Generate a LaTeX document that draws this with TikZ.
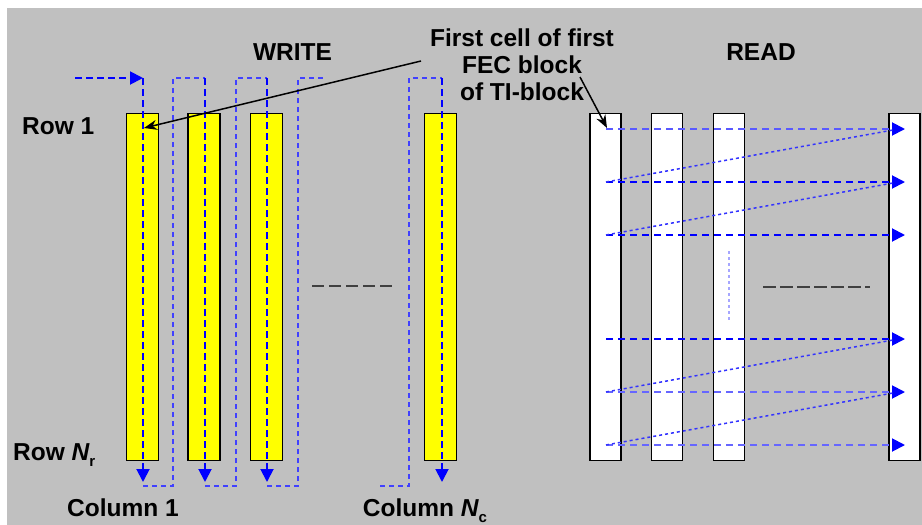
\documentclass[tikz,border=0pt]{standalone}
\usepackage{fontspec}
\setmainfont{Liberation Sans}
\usetikzlibrary{arrows.meta}
\definecolor{bg}{HTML}{C0C0C0}
\definecolor{ylw}{HTML}{FFFF00}
\definecolor{dgray}{HTML}{404040}
\definecolor{bl}{HTML}{0000FF}
\begin{document}
\begin{tikzpicture}[x=1pt,y=-1pt,
  wcol/.style={draw=black,line width=1.3pt,fill=ylw,minimum width=32pt,minimum height=347pt,inner sep=0pt},
  rcol/.style={draw=black,line width=1.3pt,fill=white,minimum width=31pt,minimum height=347pt,inner sep=0pt},
  lbl/.style={font=\fontsize{24.5}{27}\selectfont\bfseries,inner sep=0pt,text=black},
  mainline/.style={draw=bl,line width=1.9pt,dash pattern=on 7pt off 4pt},
  loopline/.style={draw=bl!75,line width=1.4pt,dash pattern=on 5pt off 4pt},
  diagline/.style={draw=bl!80,line width=1.5pt,dash pattern=on 3pt off 3pt},
  fadeline/.style={draw=bl!35,line width=1.8pt,dash pattern=on 3pt off 3pt},
  gapdash/.style={draw=dgray,line width=2.2pt},
  bluetip/.style={-{Triangle[width=13pt,length=13pt,color=bl]}},
  pointer/.style={draw=black,line width=1.5pt,-{Stealth[width=10pt,length=13pt]}}
]
\useasboundingbox (0,0) rectangle (922,525);
\fill[bg] (7,8) rectangle (922,525);

% WRITE columns
\node[wcol] (w1) at (142.5,287) {};
\node[wcol] (w2) at (204,287) {};
\node[wcol] (w3) at (266.3,287) {};
\node[wcol] (wN) at (440.5,287) {};

% READ columns
\node[rcol] (r1) at (605.5,287) {};
\node[rcol] (r2) at (667,287) {};
\node[rcol] (r3) at (729,287) {};
\node[rcol] (r4) at (904.5,287) {};

% coordinates for write path
\coordinate (ws) at (75,78);
\coordinate (t1) at (143,78);  \coordinate (b1) at (143,482); \coordinate (c1) at (143,486);
\coordinate (t2) at (205,78);  \coordinate (b2) at (205,482); \coordinate (c2) at (205,486);
\coordinate (t3) at (267,78);  \coordinate (b3) at (267,482); \coordinate (c3) at (267,486);
\coordinate (tN) at (442,78);  \coordinate (bN) at (442,482);
\coordinate (l1b) at (173,486); \coordinate (l1t) at (173,78);
\coordinate (l2b) at (236,486); \coordinate (l2t) at (236,78);
\coordinate (l3b) at (298,486); \coordinate (l3t) at (298,78); \coordinate (l3e) at (326,78);
\coordinate (l4s) at (380,486); \coordinate (l4b) at (409,486); \coordinate (l4t) at (409,78);

% loops
\draw[loopline] (c1) -- (l1b) -- (l1t) -- (t2);
\draw[loopline] (c2) -- (l2b) -- (l2t) -- (t3);
\draw[loopline] (c3) -- (l3b) -- (l3t) -- (l3e);
\draw[loopline] (l4s) -- (l4b) -- (l4t) -- (tN);

% main write lines
\draw[mainline,bluetip] (ws) -- (t1);
\draw[mainline,bluetip] (t1) -- (b1);
\draw[mainline,bluetip] (t2) -- (b2);
\draw[mainline,bluetip] (t3) -- (b3);
\draw[mainline,bluetip] (tN) -- (bN);

% write gap dashes
\coordinate (wg1) at (312,286); \coordinate (wg2) at (393,286);
\draw[gapdash,dash pattern=on 12pt off 5pt] (wg1) -- (wg2);

% READ rows
\coordinate (a1) at (606,129); \coordinate (e1) at (905,129); \coordinate (d1) at (893,130);
\coordinate (a2) at (606,182); \coordinate (e2) at (905,182); \coordinate (d2) at (893,183);
\coordinate (a3) at (606,235); \coordinate (e3) at (905,235);
\coordinate (a4) at (606,339); \coordinate (e4) at (905,339); \coordinate (d4) at (893,340);
\coordinate (a5) at (606,392); \coordinate (e5) at (905,392); \coordinate (d5) at (893,393);
\coordinate (a6) at (606,445); \coordinate (e6) at (905,445);

\draw[mainline,draw=bl!65,dash pattern=on 7pt off 5pt,bluetip] (a1) -- (e1);
\draw[mainline,dash pattern=on 7pt off 5pt,bluetip] (a2) -- (e2);
\draw[mainline,dash pattern=on 7pt off 5pt,bluetip] (a3) -- (e3);
\draw[mainline,dash pattern=on 7pt off 5pt,bluetip] (a4) -- (e4);
\draw[mainline,draw=bl!60,dash pattern=on 7pt off 5pt,bluetip] (a5) -- (e5);
\draw[mainline,draw=bl!60,dash pattern=on 7pt off 5pt,bluetip] (a6) -- (e6);

\draw[diagline] (a2) -- (d1);
\draw[diagline] (a3) -- (d2);
\draw[diagline] (a5) -- (d4);
\draw[diagline] (a6) -- (d5);

% vertical faded dots in read col 3
\coordinate (v1) at (729,251); \coordinate (v2) at (729,322);
\draw[fadeline] (v1) -- (v2);

% read gap dashes
\coordinate (rg1) at (763,287); \coordinate (rg2) at (870,287);
\draw[gapdash,dash pattern=on 13pt off 4pt] (rg1) -- (rg2);

% labels
\node[lbl] (write) at (292.5,52) {WRITE};
\node[lbl] (read) at (761,52) {READ};
\node[lbl,align=center] (first) at (522,65) {First cell of first\\FEC block\\of TI-block};
\node[lbl,anchor=west] (row1) at (22,126) {Row 1};
\node[lbl,anchor=base west] (rowN) at (13,460) {Row {\itshape N}\raisebox{-0.28em}{\fontsize{15}{15}\selectfont r}};
\node[lbl,anchor=base] (col1) at (123,516) {Column 1};
\node[lbl,anchor=base] (colN) at (425,516) {Column {\itshape N}\raisebox{-0.28em}{\fontsize{15}{15}\selectfont c}};

% pointers
\coordinate (p1s) at (421,61); \coordinate (p1e) at (144,128);
\coordinate (p2s) at (580,77); \coordinate (p2e) at (607,128);
\draw[pointer] (p1s) -- (p1e);
\draw[pointer] (p2s) -- (p2e);
\end{tikzpicture}
\end{document}
